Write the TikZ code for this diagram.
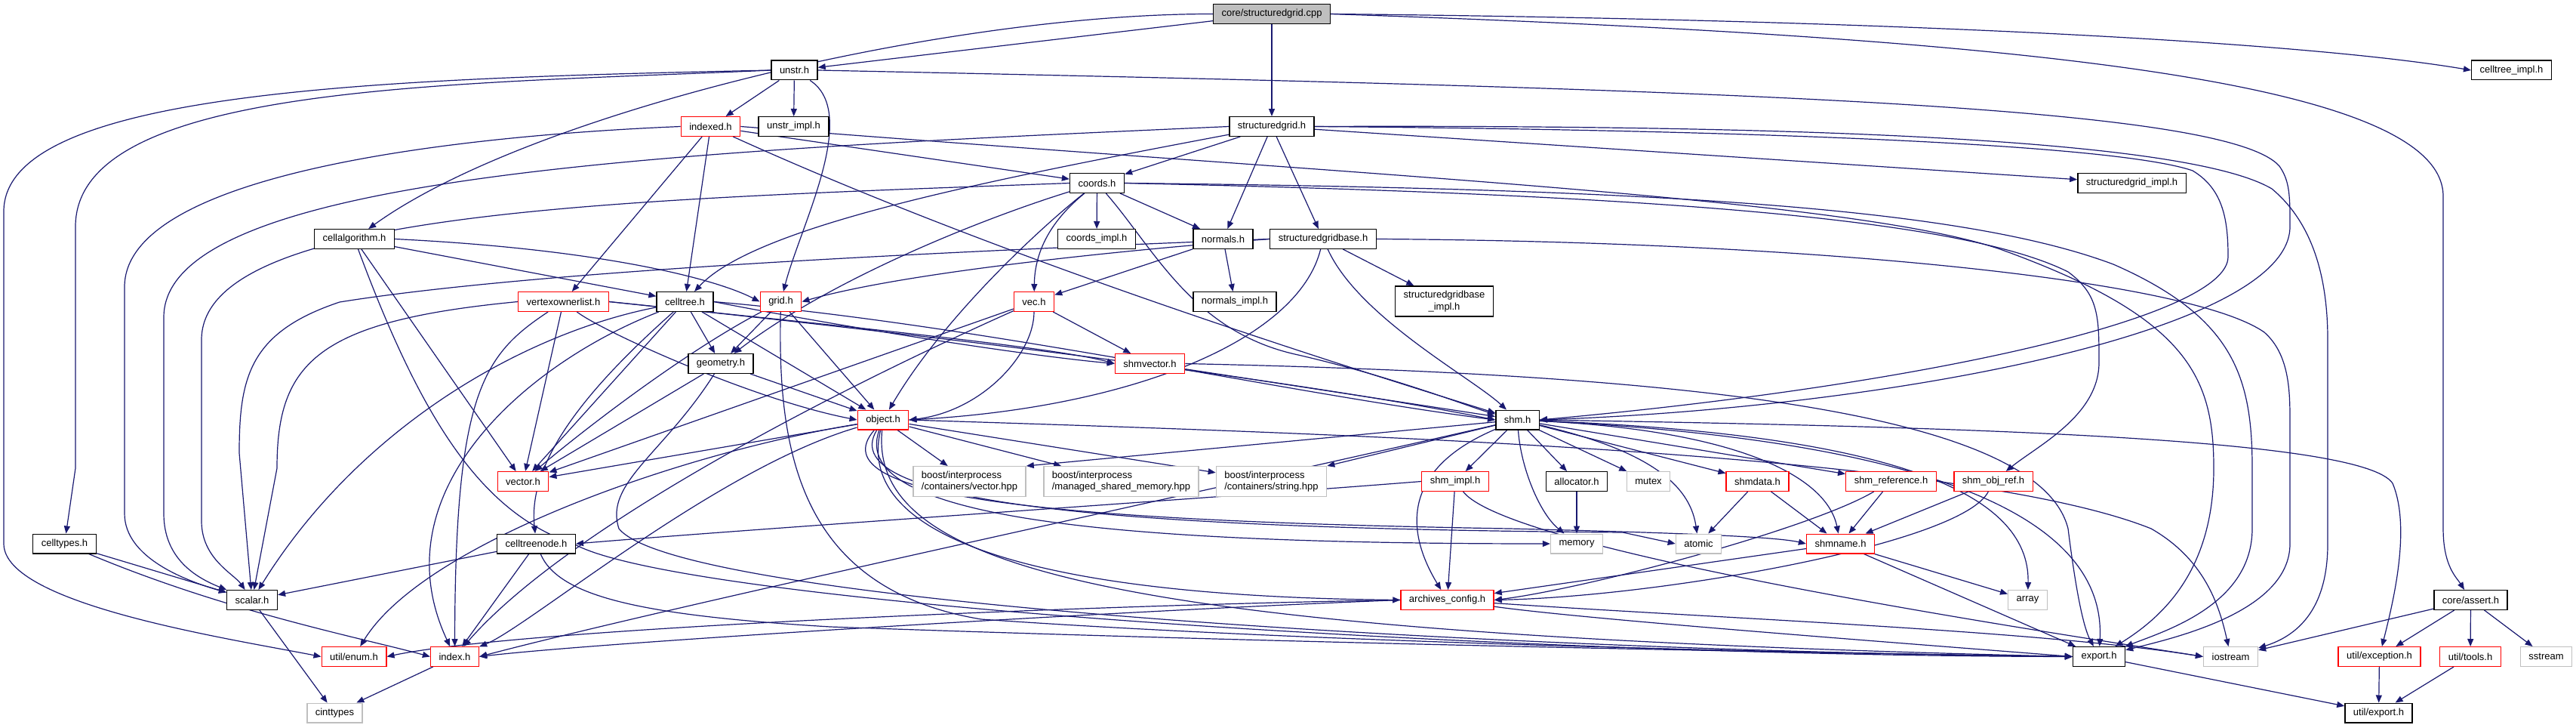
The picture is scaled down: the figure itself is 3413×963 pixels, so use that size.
\documentclass[tikz,border=0pt]{standalone}
\usepackage{fontspec}
\setmainfont{Liberation Sans}
\usepackage{tikz}
\usepackage{xcolor}
\usetikzlibrary{arrows.meta,backgrounds}

\definecolor{edgeblue}{HTML}{191970}
\definecolor{boxgray}{HTML}{BFBFBF}
\definecolor{boxred}{HTML}{FF0000}

\begin{document}
\begin{tikzpicture}[x=0.5pt, y=-0.5pt,
    every node/.style={font=\fontsize{6.5}{7.8}\selectfont, inner xsep=5.5pt, inner ysep=2pt,
      minimum height=12.8pt, line width=0.7pt, fill=white},
    hdr/.style={draw=black},
    hdrred/.style={draw=boxred},
    hdrgray/.style={draw=boxgray},
    hdrroot/.style={draw=black, fill=boxgray},
    twoline/.style={align=left, minimum height=19.8pt},
    inc/.style={draw=edgeblue, line width=0.6pt, -{Triangle[length=5pt,width=4pt]}}]
    \useasboundingbox (0,0) rectangle (3413,963);

    % Source file
    \node[hdrroot] (cpp) at (1685,18.5) {core/structuredgrid.cpp};

    % First level
    \node[hdr] (unstr) at (1052.5,93) {unstr.h};
    \node[hdr] (celltreeimpl) at (3327.5,93) {celltree\_impl.h};
    \node[hdrred] (indexed) at (941.5,167.5) {indexed.h};
    \node[hdr] (unstrimpl) at (1051.5,167.5) {unstr\_impl.h};
    \node[hdr] (sgrid) at (1685,167.5) {structuredgrid.h};
    \node[hdr] (coords) at (1453.5,242.5) {coords.h};
    \node[hdr] (sgridimpl) at (2824.5,242.5) {structuredgrid\_impl.h};
    \node[hdr] (cellalg) at (469.5,316.5) {cellalgorithm.h};
    \node[hdr] (coordsimpl) at (1453,316.5) {coords\_impl.h};
    \node[hdr] (normals) at (1620.5,316.5) {normals.h};
    \node[hdr] (sgridbase) at (1753,316.5) {structuredgridbase.h};

    % Grid helpers
    \node[hdrred] (vol) at (746.5,399.5) {vertexownerlist.h};
    \node[hdr] (celltree) at (907.5,399.5) {celltree.h};
    \node[hdrred] (grid) at (1034.5,399.5) {grid.h};
    \node[hdrred] (vec) at (1370,399.5) {vec.h};
    \node[hdr] (normalsimpl) at (1636,399.5) {normals\_impl.h};
    \node[hdr, align=center, minimum height=20pt] (sgridbaseimpl) at (1913.5,399) {structuredgridbase\\\_impl.h};
    \node[hdr] (geometry) at (955,481.5) {geometry.h};
    \node[hdrred] (shmvector) at (1523.5,481.5) {shmvector.h};
    \node[hdrred] (object) at (1170,556) {object.h};
    \node[hdr] (shm) at (2010.5,556) {shm.h};

    % Shared memory layer
    \node[hdrred] (vector) at (693,637.5) {vector.h};
    \node[hdrgray, twoline] (bvector) at (1284.5,637.5) {boost/interprocess\\/containers/vector.hpp};
    \node[hdrgray, twoline] (bmanaged) at (1485.5,637.5) {boost/interprocess\\/managed\_shared\_memory.hpp};
    \node[hdrgray, twoline] (bstring) at (1684.5,637.5) {boost/interprocess\\/containers/string.hpp};
    \node[hdrred] (shmimpl) at (1928,637.5) {shm\_impl.h};
    \node[hdr] (allocator) at (2089,637.5) {allocator.h};
    \node[hdrgray] (mutex) at (2184,637.5) {mutex};
    \node[hdrred] (shmdata) at (2328.5,637.5) {shmdata.h};
    \node[hdrred] (shmref) at (2505.5,637.5) {shm\_reference.h};
    \node[hdrred] (shmobjref) at (2641,637.5) {shm\_obj\_ref.h};
    \node[hdr] (celltypes) at (85.5,720) {celltypes.h};
    \node[hdr] (celltreenode) at (710.5,720) {celltreenode.h};
    \node[hdrgray] (memory) at (2089,720) {memory};
    \node[hdrgray] (atomic) at (2250.5,720) {atomic};
    \node[hdrred] (shmname) at (2438.5,720) {shmname.h};

    % Bottom rows
    \node[hdr] (scalar) at (334,794.5) {scalar.h};
    \node[hdrred] (archives) at (1917.5,794.5) {archives\_config.h};
    \node[hdrgray] (array) at (2686.5,794.5) {array};
    \node[hdr] (assert) at (3273.5,794.5) {core/assert.h};
    \node[hdrred] (uenum) at (469,869.5) {util/enum.h};
    \node[hdrred] (index) at (602.5,869.5) {index.h};
    \node[hdr] (export) at (2781,869.5) {export.h};
    \node[hdrgray] (iostream) at (2955.5,869.5) {iostream};
    \node[hdrred] (uexception) at (3152.5,869.5) {util/exception.h};
    \node[hdrred] (utools) at (3273,869.5) {util/tools.h};
    \node[hdrgray] (sstream) at (3373.5,869.5) {sstream};
    \node[hdrgray] (cinttypes) at (443.5,944) {cinttypes};
    \node[hdr] (uexport) at (3151.5,944) {util/export.h};

    \begin{scope}[on background layer]
    % Root includes
    \draw[inc] (cpp) -- (unstr);
    \draw[inc] (cpp) -- (sgrid);
    \draw[inc] (cpp.west) .. controls (1250,18) and (700,150) .. (cellalg);
    \draw[inc] (cpp.east) .. controls (2500,26) and (3050,55) .. (celltreeimpl.west);
    \draw[inc] (cpp.east) .. controls (2700,50) and (3237,110) .. (3237,260) -- (3237,700) .. controls (3237,750) and (3255,765) .. (assert);

    % unstr.h
    \draw[inc] (unstr) -- (indexed);
    \draw[inc] (unstr) -- (unstrimpl);
    \draw[inc] (unstr) .. controls (1140,150) and (1060,300) .. (grid);
    \draw[inc] (unstr.east) .. controls (2300,118) and (2950,140) .. (3020,220) .. controls (3034,240) and (3034,260) .. (3034,300) .. controls (3034,440) and (2500,540) .. (shm.east);
    \draw[inc] (unstr.west) .. controls (600,112) and (100,110) .. (100,300) -- (100,620) -- (celltypes);
    \draw[inc] (unstr.west) .. controls (500,104) and (5,120) .. (5,280) -- (5,720) .. controls (5,800) and (300,845) .. (uenum.west);

    % indexed.h
    \draw[inc] (indexed) -- (vol);
    \draw[inc] (indexed) -- (celltree);
    \draw[inc] (indexed) -- (coords);
    \draw[inc] (indexed) .. controls (1300,330) and (1700,460) .. (shm);
    \draw[inc] (indexed.west) .. controls (600,180) and (165,230) .. (165,380) -- (165,680) .. controls (165,740) and (250,770) .. (scalar);
    \draw[inc] (indexed.east) .. controls (1800,232) and (2450,262) .. (2650,330) .. controls (2900,420) and (2933,500) .. (2933,620) .. controls (2933,760) and (2860,820) .. (export);

    % structuredgrid.h
    \draw[inc] (sgrid) -- (coords);
    \draw[inc] (sgrid) -- (normals);
    \draw[inc] (sgrid) -- (sgridbase);
    \draw[inc] (sgrid) -- (sgridimpl);
    \draw[inc] (sgrid) .. controls (1300,240) and (1000,300) .. (celltree);
    \draw[inc] (sgrid.west) .. controls (900,200) and (217,230) .. (217,420) -- (217,680) .. controls (217,740) and (260,765) .. (scalar);
    \draw[inc] (sgrid.east) .. controls (2300,172) and (2800,190) .. (2905,226) .. controls (2945,250) and (2952,290) .. (2952,340) .. controls (2952,420) and (2550,510) .. (shm.east);
    \draw[inc] (sgrid.east) .. controls (2400,165) and (2900,185) .. (3010,250) .. controls (3070,300) and (3084,380) .. (3084,450) -- (3084,720) .. controls (3084,800) and (3050,840) .. (iostream);

    % coords.h
    \draw[inc] (coords) -- (coordsimpl);
    \draw[inc] (coords) -- (normals);
    \draw[inc] (coords) .. controls (1395,290) and (1371,330) .. (vec);
    \draw[inc] (coords) .. controls (1380,300) and (1250,420) .. (object);
    \draw[inc] (coords) .. controls (1300,290) and (1100,370) .. (geometry);
    \draw[inc] (coords) .. controls (1530,330) and (1580,440) .. (1720,470) .. controls (1850,500) and (1950,540) .. (shm);
    \draw[inc] (coords.west) .. controls (800,265) and (267,280) .. (267,450) -- (267,690) .. controls (267,740) and (310,760) .. (scalar);
    \draw[inc] (coords.east) .. controls (2200,258) and (2600,290) .. (2740,360) .. controls (2781,390) and (2781,420) .. (2781,480) .. controls (2781,550) and (2700,590) .. (shmobjref);
    \draw[inc] (coords.east) .. controls (2200,250) and (2600,275) .. (2800,350) .. controls (2960,420) and (2984,500) .. (2984,620) -- (2984,700) .. controls (2984,800) and (2870,835) .. (export);

    % cellalgorithm.h
    \draw[inc] (cellalg) -- (celltree);
    \draw[inc] (cellalg.east) .. controls (800,330) and (950,370) .. (grid.west);
    \draw[inc] (cellalg) -- (vector);
    \draw[inc] (cellalg) .. controls (560,560) and (640,680) .. (760,720) .. controls (900,800) and (2000,868) .. (export.west);

    % normals.h, structuredgridbase.h
    \draw[inc] (normals) -- (normalsimpl);
    \draw[inc] (normals) -- (vec);
    \draw[inc] (sgridbase) -- (sgridbaseimpl);
    \draw[inc] (sgridbase) .. controls (1800,420) and (1950,500) .. (shm);
    \draw[inc] (sgridbase.west) .. controls (1500,330) and (1200,360) .. (grid.east);
    \draw[inc] (sgridbase) .. controls (1720,450) and (1500,540) .. (object.east);
    \draw[inc] (sgridbase.west) .. controls (1200,335) and (700,360) .. (450,400) .. controls (330,440) and (317,500) .. (317,600) -- (scalar);
    \draw[inc] (sgridbase.east) .. controls (2400,320) and (2900,370) .. (3000,440) .. controls (3034,470) and (3034,520) .. (3034,560) -- (3034,720) .. controls (3034,810) and (2880,845) .. (export);

    % vertexownerlist.h
    \draw[inc] (vol.west) .. controls (420,425) and (367,480) .. (367,620) -- (scalar);
    \draw[inc] (vol) .. controls (640,470) and (603,520) .. (index);
    \draw[inc] (vol) -- (vector);
    \draw[inc] (vol) .. controls (800,440) and (1000,530) .. (object.west);
    \draw[inc] (vol.east) .. controls (1100,430) and (1400,460) .. (shmvector.west);
    \draw[inc] (vol.east) .. controls (1200,440) and (1700,500) .. (shm.west);

    % celltree.h
    \draw[inc] (celltree) -- (geometry);
    \draw[inc] (celltree) -- (object);
    \draw[inc] (celltree) -- (vector);
    \draw[inc] (celltree.east) .. controls (1100,430) and (1350,470) .. (shmvector.west);
    \draw[inc] (celltree.east) .. controls (1300,430) and (1700,520) .. (shm.west);
    \draw[inc] (celltree) .. controls (700,440) and (480,560) .. (scalar);
    \draw[inc] (celltree) .. controls (700,480) and (500,650) .. (index);
    \draw[inc] (celltree) .. controls (760,530) and (700,620) .. (celltreenode);

    % grid.h, vec.h, geometry.h
    \draw[inc] (grid) -- (geometry);
    \draw[inc] (grid) -- (object);
    \draw[inc] (grid) .. controls (900,470) and (760,580) .. (vector);
    \draw[inc] (grid) .. controls (1030,600) and (1060,780) .. (1300,820) .. controls (1800,855) and (2500,866) .. (export.west);
    \draw[inc] (vec) -- (shmvector);
    \draw[inc] (vec) .. controls (1370,470) and (1300,545) .. (object.east);
    \draw[inc] (vec) -- (vector);
    \draw[inc] (vec) .. controls (1100,520) and (750,700) .. (index);
    \draw[inc] (geometry) -- (object);
    \draw[inc] (geometry) -- (vector);
    \draw[inc] (geometry) .. controls (880,600) and (800,640) .. (820,700) .. controls (900,800) and (2000,862) .. (export.west);

    % shmvector.h
    \draw[inc] (shmvector) -- (shm);
    \draw[inc] (shmvector.east) .. controls (2200,495) and (2700,540) .. (2740,700) .. controls (2750,780) and (2760,830) .. (export);

    % object.h
    \draw[inc] (object) -- (vector);
    \draw[inc] (object) .. controls (900,600) and (560,720) .. (uenum);
    \draw[inc] (object) .. controls (950,620) and (700,830) .. (index);
    \draw[inc] (object) -- (bvector);
    \draw[inc] (object) -- (bmanaged);
    \draw[inc] (object) -- (bstring);
    \draw[inc] (object) .. controls (1080,660) and (1400,690) .. (2000,700) .. controls (2200,705) and (2350,710) .. (shmname.west);
    \draw[inc] (object) .. controls (1100,670) and (1500,700) .. (2150,705) -- (atomic.west);
    \draw[inc] (object) .. controls (1120,690) and (1500,720) .. (memory.west);
    \draw[inc] (object) .. controls (1130,720) and (1400,790) .. (archives.west);
    \draw[inc] (object) .. controls (1150,760) and (1500,840) .. (export.west);
    \draw[inc] (object.east) .. controls (1800,575) and (2600,600) .. (2850,700) .. controls (2920,740) and (2940,800) .. (iostream);

    % shm.h
    \draw[inc] (shm) -- (bvector.north east);
    \draw[inc] (shm) -- (bstring.north east);
    \draw[inc] (shm) -- (shmimpl);
    \draw[inc] (shm) -- (allocator);
    \draw[inc] (shm) -- (mutex);
    \draw[inc] (shm) -- (shmdata);
    \draw[inc] (shm) -- (shmref);
    \draw[inc] (shm) .. controls (2015,620) and (2040,680) .. (memory);
    \draw[inc] (shm) .. controls (2200,600) and (2240,650) .. (atomic);
    \draw[inc] (shm) .. controls (2300,570) and (2420,630) .. (shmname);
    \draw[inc] (shm) .. controls (2500,575) and (2690,650) .. (array);
    \draw[inc] (shm) .. controls (2600,585) and (2790,700) .. (export);
    \draw[inc] (shm.east) .. controls (2600,565) and (3130,580) .. (3170,640) .. controls (3195,700) and (3170,800) .. (uexception);
    \draw[inc] (shm) .. controls (1600,650) and (900,800) .. (index.east);
    \draw[inc] (shm) .. controls (1860,620) and (1860,700) .. (archives);

    % shm helpers
    \draw[inc] (shmimpl) -- (archives);
    \draw[inc] (shmimpl.west) .. controls (1600,660) and (1000,700) .. (celltreenode.east);
    \draw[inc] (shmimpl) .. controls (2000,730) and (2700,835) .. (iostream.west);
    \draw[inc] (allocator) -- (memory);
    \draw[inc] (shmdata) -- (atomic);
    \draw[inc] (shmdata) -- (shmname);
    \draw[inc] (shmref) -- (shmname);
    \draw[inc] (shmref) .. controls (2400,700) and (2100,780) .. (archives.east);
    \draw[inc] (shmobjref) -- (shmname);
    \draw[inc] (shmobjref) .. controls (2600,720) and (2200,790) .. (archives.east);
    \draw[inc] (shmname) -- (archives);
    \draw[inc] (shmname) -- (export);
    \draw[inc] (shmname) -- (array);

    % archives_config.h
    \draw[inc] (archives.west) .. controls (1500,800) and (700,830) .. (uenum.east);
    \draw[inc] (archives.west) .. controls (1500,808) and (800,850) .. (index.east);
    \draw[inc] (archives) .. controls (2100,820) and (2500,850) .. (export.west);
    \draw[inc] (archives) .. controls (2300,820) and (2700,835) .. (iostream.west);

    % celltreenode.h, celltypes.h
    \draw[inc] (celltreenode) -- (scalar);
    \draw[inc] (celltreenode) -- (index);
    \draw[inc] (celltreenode) .. controls (740,790) and (850,815) .. (1100,830) .. controls (1800,855) and (2500,866) .. (export.west);
    \draw[inc] (celltypes) -- (scalar);
    \draw[inc] (celltypes) .. controls (300,810) and (480,845) .. (index.west);

    % Leaves
    \draw[inc] (scalar) -- (cinttypes);
    \draw[inc] (index) -- (cinttypes);
    \draw[inc] (export) -- (uexport);
    \draw[inc] (assert) -- (iostream);
    \draw[inc] (assert) -- (uexception);
    \draw[inc] (assert) -- (utools);
    \draw[inc] (assert) -- (sstream);
    \draw[inc] (uexception) -- (uexport);
    \draw[inc] (utools) -- (uexport);
    \end{scope}
\end{tikzpicture}
\end{document}
